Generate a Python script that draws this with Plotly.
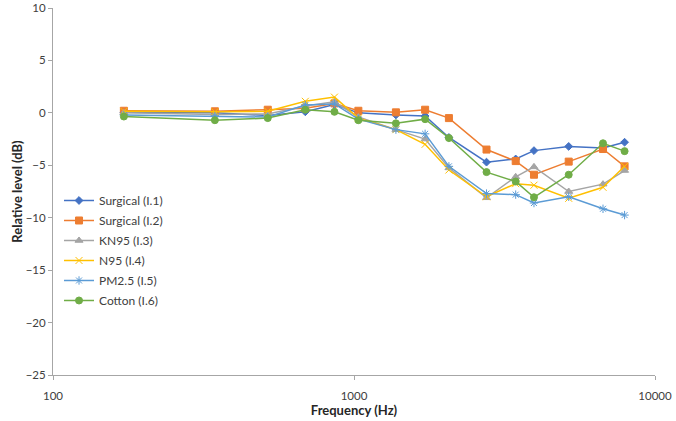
import plotly.graph_objects as go

freq = [172, 345, 517, 689, 861, 1034, 1378, 1723, 2067, 2756, 3445, 3962, 5168, 6718, 7924]

surgical_1 = [0.05, 0.0, -0.25, 0.1, 0.8, 0.0, -0.2, -0.3, -2.35, -4.7, -4.4, -3.6, -3.2, -3.35, -2.8]
surgical_2 = [0.2, 0.15, 0.3, 0.45, 0.9, 0.2, 0.05, 0.3, -0.5, -3.5, -4.6, -5.9, -4.65, -3.45, -5.1]
kn95 = [0.0, -0.15, -0.1, 0.65, 1.05, -0.4, -1.6, -2.5, -5.25, -8.1, -6.1, -5.15, -7.5, -6.8, -5.5]
n95 = [0.15, 0.1, 0.15, 1.1, 1.5, -0.5, -1.6, -3.0, -5.45, -8.0, -6.75, -6.9, -8.15, -7.1, -5.1]
pm25 = [-0.2, -0.3, -0.4, 0.75, 0.85, -0.6, -1.6, -2.0, -5.1, -7.7, -7.8, -8.6, -8.0, -9.15, -9.75]
cotton = [-0.35, -0.7, -0.5, 0.3, 0.1, -0.7, -1.0, -0.6, -2.4, -5.65, -6.55, -8.05, -5.9, -2.9, -3.65]

series_names = ["Surgical (I.1)", "Surgical (I.2)", "KN95 (I.3)", "N95 (I.4)", "PM2.5 (I.5)", "Cotton (I.6)"]
series_values = [surgical_1, surgical_2, kn95, n95, pm25, cotton]
colors = ["#4472C4", "#ED7D31", "#A5A5A5", "#FFC000", "#5B9BD5", "#70AD47"]
symbols = ["diamond", "square", "triangle-up", "x-thin-open", "asterisk-open", "circle"]
sizes = [6, 7, 7, 7, 7, 7]

x_ticks = [100, 1000, 10000]
y_ticks = [10, 5, 0, -5, -10, -15, -20, -25]

fig = go.Figure()
for name, vals, c, s, sz in zip(series_names, series_values, colors, symbols, sizes):
    fig.add_trace(go.Scatter(
        x=freq, y=vals, name=name, mode="lines+markers", legendgroup=name,
        line=dict(color=c, width=1.5),
        marker=dict(symbol=s, size=sz, color=c, line=dict(color=c, width=1)),
    ))

fig.update_layout(
    width=676, height=421,
    margin=dict(l=53, r=21, t=8, b=46),
    paper_bgcolor="white", plot_bgcolor="white",
    font=dict(family="Lato, Open Sans, sans-serif", size=12, color="#404040"),
    showlegend=True,
    legend=dict(
        x=0.01, y=0.515, xanchor="left", yanchor="top",
        bgcolor="rgba(0,0,0,0)", font=dict(size=12, color="#404040"),
        itemwidth=30, tracegroupgap=1,
    ),
    xaxis=dict(
        type="log", range=[2, 4], tickvals=x_ticks, ticktext=[str(v) for v in x_ticks],
        showgrid=False, zeroline=False, showline=True, linecolor="#A6A6A6", linewidth=1,
        ticks="outside", ticklen=4, tickcolor="#A6A6A6", ticklabelstandoff=6,
        ticklabeloverflow="allow", automargin=False, tickfont=dict(size=11.5),
        title=dict(text="<b>Frequency (Hz)</b>", font=dict(size=13, color="#262626"), standoff=2),
    ),
    yaxis=dict(
        range=[-25, 10], tickvals=y_ticks,
        showgrid=False, zeroline=False, showline=True, linecolor="#A6A6A6", linewidth=1,
        ticks="outside", ticklen=4, tickcolor="#A6A6A6", ticklabeloverflow="allow",
        automargin=False, tickfont=dict(size=11.5),
        title=dict(text="<b>Relative level (dB)</b>", font=dict(size=13, color="#262626"), standoff=0),
    ),
)

fig.write_html("out.html", config={"displayModeBar": False},
               post_script="document.body.style.margin='0';document.body.style.overflow='hidden';")
